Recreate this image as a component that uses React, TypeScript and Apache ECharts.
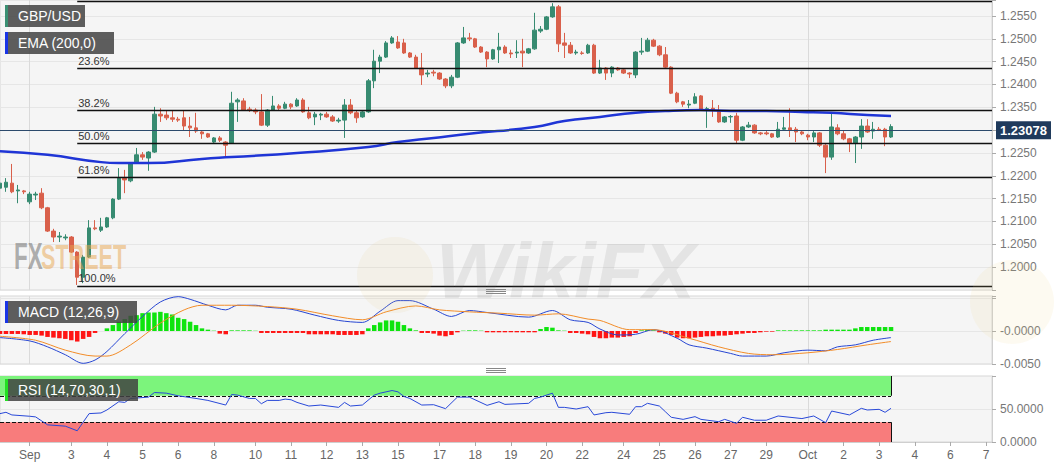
import React, { useEffect, useRef } from "react";
import * as echarts from "echarts";

// ---- DATA ----
const slotCount = 168; // 4-hour slots on the category axis (incl. empty future slots)
const slots = Array.from({ length: slotCount }, (_, i) => String(i));
const dayTickIdx = [5, 12, 18, 24, 30, 36, 43, 49, 55, 61, 67, 74, 80, 86, 92, 98, 105, 111, 117, 123, 129, 136, 142, 148, 154, 160, 166];
const dayTickLabels = ["Sep", "3", "4", "5", "6", "8", "10", "11", "12", "13", "15", "17", "18", "19", "20", "22", "24", "25", "26", "27", "29", "Oct", "2", "3", "4", "6", "7"];
const monthLineIdx = [5, 136];

// [open, close, low, high]
const candles: number[][] = [
  [1.2173, 1.2184, 1.2169, 1.2191], [1.2175, 1.2186, 1.2165, 1.2195], [1.2184, 1.2165, 1.2162, 1.2226], [1.2167, 1.2169, 1.2140, 1.2180],
  [1.2167, 1.2165, 1.2160, 1.2169], [1.2143, 1.2160, 1.2138, 1.2165], [1.2158, 1.2160, 1.2147, 1.2165], [1.2162, 1.2130, 1.2127, 1.2173],
  [1.2130, 1.2079, 1.2077, 1.2132], [1.2079, 1.2066, 1.2055, 1.2084], [1.2066, 1.2068, 1.2055, 1.2077], [1.2064, 1.2066, 1.2059, 1.2072],
  [1.2066, 1.2033, 1.2031, 1.2068], [1.2033, 1.1978, 1.1961, 1.2035], [1.1978, 1.2022, 1.1965, 1.2027], [1.2022, 1.2086, 1.2020, 1.2103],
  [1.2086, 1.2084, 1.2081, 1.2103], [1.2081, 1.2088, 1.2077, 1.2108], [1.2088, 1.2108, 1.2086, 1.2110], [1.2108, 1.2149, 1.2105, 1.2151],
  [1.2149, 1.2195, 1.2147, 1.2217], [1.2195, 1.2191, 1.2162, 1.2213], [1.2189, 1.2228, 1.2186, 1.2230], [1.2230, 1.2246, 1.2228, 1.2261],
  [1.2246, 1.2241, 1.2235, 1.2252], [1.2239, 1.2252, 1.2211, 1.2254], [1.2252, 1.2335, 1.2250, 1.2351], [1.2335, 1.2331, 1.2318, 1.2348],
  [1.2333, 1.2327, 1.2322, 1.2344], [1.2327, 1.2324, 1.2318, 1.2344], [1.2324, 1.2322, 1.2318, 1.2329], [1.2327, 1.2309, 1.2300, 1.2344],
  [1.2309, 1.2305, 1.2285, 1.2329], [1.2305, 1.2298, 1.2294, 1.2338], [1.2296, 1.2292, 1.2281, 1.2298], [1.2292, 1.2285, 1.2283, 1.2294],
  [1.2274, 1.2283, 1.2272, 1.2285], [1.2283, 1.2278, 1.2274, 1.2287], [1.2274, 1.2267, 1.2239, 1.2276], [1.2272, 1.2359, 1.2270, 1.2384],
  [1.2362, 1.2366, 1.2318, 1.2370], [1.2364, 1.2344, 1.2342, 1.2370], [1.2346, 1.2344, 1.2340, 1.2351], [1.2344, 1.2340, 1.2335, 1.2348],
  [1.2340, 1.2311, 1.2309, 1.2379], [1.2311, 1.2344, 1.2307, 1.2346], [1.2344, 1.2353, 1.2342, 1.2375], [1.2353, 1.2348, 1.2344, 1.2357],
  [1.2348, 1.2357, 1.2346, 1.2362], [1.2357, 1.2351, 1.2346, 1.2359], [1.2353, 1.2366, 1.2351, 1.2370], [1.2366, 1.2340, 1.2338, 1.2370],
  [1.2338, 1.2327, 1.2324, 1.2351], [1.2329, 1.2335, 1.2311, 1.2340], [1.2333, 1.2335, 1.2322, 1.2338], [1.2335, 1.2329, 1.2327, 1.2340],
  [1.2329, 1.2320, 1.2318, 1.2333], [1.2320, 1.2322, 1.2316, 1.2327], [1.2322, 1.2355, 1.2283, 1.2368], [1.2355, 1.2338, 1.2335, 1.2368],
  [1.2338, 1.2327, 1.2316, 1.2342], [1.2329, 1.2340, 1.2327, 1.2344], [1.2340, 1.2408, 1.2338, 1.2412], [1.2408, 1.2451, 1.2392, 1.2476],
  [1.2451, 1.2460, 1.2425, 1.2465], [1.2460, 1.2491, 1.2458, 1.2495], [1.2491, 1.2502, 1.2489, 1.2506], [1.2493, 1.2480, 1.2478, 1.2506],
  [1.2491, 1.2469, 1.2467, 1.2500], [1.2469, 1.2460, 1.2458, 1.2471], [1.2460, 1.2436, 1.2434, 1.2465], [1.2436, 1.2421, 1.2399, 1.2469],
  [1.2423, 1.2425, 1.2416, 1.2432], [1.2427, 1.2425, 1.2418, 1.2432], [1.2425, 1.2412, 1.2410, 1.2427], [1.2412, 1.2397, 1.2392, 1.2414],
  [1.2397, 1.2416, 1.2392, 1.2421], [1.2416, 1.2491, 1.2414, 1.2493], [1.2491, 1.2502, 1.2489, 1.2526], [1.2502, 1.2500, 1.2495, 1.2513],
  [1.2500, 1.2482, 1.2480, 1.2502], [1.2482, 1.2471, 1.2469, 1.2484], [1.2471, 1.2456, 1.2438, 1.2473], [1.2456, 1.2476, 1.2454, 1.2478],
  [1.2476, 1.2482, 1.2447, 1.2513], [1.2482, 1.2469, 1.2467, 1.2486], [1.2469, 1.2467, 1.2458, 1.2476], [1.2469, 1.2471, 1.2458, 1.2497],
  [1.2473, 1.2469, 1.2438, 1.2500], [1.2469, 1.2478, 1.2467, 1.2480], [1.2478, 1.2519, 1.2476, 1.2557], [1.2517, 1.2521, 1.2513, 1.2528],
  [1.2521, 1.2548, 1.2519, 1.2550], [1.2548, 1.2570, 1.2546, 1.2578], [1.2570, 1.2489, 1.2471, 1.2574], [1.2491, 1.2486, 1.2458, 1.2513],
  [1.2486, 1.2469, 1.2467, 1.2493], [1.2469, 1.2471, 1.2465, 1.2476], [1.2469, 1.2468, 1.2465, 1.2473], [1.2469, 1.2486, 1.2467, 1.2489],
  [1.2486, 1.2425, 1.2423, 1.2489], [1.2425, 1.2436, 1.2423, 1.2454], [1.2436, 1.2425, 1.2410, 1.2438], [1.2425, 1.2438, 1.2416, 1.2440],
  [1.2436, 1.2432, 1.2430, 1.2438], [1.2432, 1.2425, 1.2423, 1.2434], [1.2425, 1.2423, 1.2414, 1.2427], [1.2421, 1.2471, 1.2414, 1.2473],
  [1.2471, 1.2473, 1.2465, 1.2502], [1.2473, 1.2497, 1.2471, 1.2502], [1.2497, 1.2484, 1.2482, 1.2500], [1.2484, 1.2465, 1.2462, 1.2486],
  [1.2465, 1.2438, 1.2436, 1.2482], [1.2438, 1.2381, 1.2379, 1.2440], [1.2381, 1.2362, 1.2359, 1.2384], [1.2362, 1.2357, 1.2351, 1.2364],
  [1.2355, 1.2357, 1.2348, 1.2366], [1.2359, 1.2373, 1.2357, 1.2381], [1.2375, 1.2346, 1.2344, 1.2377], [1.2346, 1.2347, 1.2305, 1.2351],
  [1.2348, 1.2344, 1.2329, 1.2366], [1.2342, 1.2318, 1.2316, 1.2355], [1.2318, 1.2329, 1.2316, 1.2331], [1.2329, 1.2330, 1.2316, 1.2333],
  [1.2331, 1.2278, 1.2272, 1.2338], [1.2278, 1.2307, 1.2276, 1.2309], [1.2307, 1.2311, 1.2305, 1.2318], [1.2311, 1.2294, 1.2292, 1.2313],
  [1.2294, 1.2292, 1.2289, 1.2296], [1.2294, 1.2292, 1.2289, 1.2298], [1.2292, 1.2285, 1.2283, 1.2294], [1.2285, 1.2302, 1.2283, 1.2318],
  [1.2302, 1.2305, 1.2300, 1.2329], [1.2305, 1.2300, 1.2285, 1.2348], [1.2302, 1.2296, 1.2274, 1.2307], [1.2296, 1.2292, 1.2289, 1.2298],
  [1.2289, 1.2285, 1.2278, 1.2292], [1.2285, 1.2294, 1.2274, 1.2298], [1.2294, 1.2267, 1.2263, 1.2296], [1.2267, 1.2241, 1.2206, 1.2270],
  [1.2241, 1.2307, 1.2235, 1.2338], [1.2305, 1.2292, 1.2289, 1.2313], [1.2292, 1.2281, 1.2278, 1.2300], [1.2281, 1.2272, 1.2252, 1.2283],
  [1.2272, 1.2285, 1.2228, 1.2287], [1.2285, 1.2309, 1.2259, 1.2324], [1.2309, 1.2296, 1.2294, 1.2324], [1.2298, 1.2302, 1.2281, 1.2318],
  [1.2302, 1.2300, 1.2298, 1.2307], [1.2302, 1.2285, 1.2265, 1.2305], [1.2285, 1.23078, 1.2283, 1.2313],
];

// EMA(200) read at points along the line: [slot, value]
const emaPts: number[][] = [
  [0, 1.2254], [8, 1.2246], [17, 1.2230], [20, 1.2228], [25, 1.2228], [34, 1.2237], [39, 1.2241], [50, 1.2250],
  [62, 1.2263], [67, 1.2274], [73, 1.2283], [79, 1.2292], [90, 1.2307], [95, 1.2320], [101, 1.2329], [107, 1.2338],
  [112, 1.2342], [118, 1.2344], [123, 1.2342], [129, 1.2342], [135, 1.2340], [140, 1.2338], [146, 1.2333], [150, 1.2331],
];

const macdPts: number[][] = [
  [0, -0.0010], [5, -0.0015], [8, -0.0024], [11, -0.0036], [14, -0.0049], [16, -0.0044], [18, -0.0031], [21, -0.0004],
  [24, 0.0022], [27, 0.0044], [30, 0.0052], [32, 0.0048], [35, 0.0039], [38, 0.0032], [40, 0.0039], [43, 0.0039],
  [45, 0.0036], [49, 0.0033], [53, 0.0024], [57, 0.0016], [61, 0.0013], [64, 0.0030], [67, 0.0046], [69, 0.0046],
  [73, 0.0033], [76, 0.0022], [79, 0.0031], [82, 0.0028], [89, 0.0021], [93, 0.0031], [96, 0.0017], [99, 0.0013],
  [101, 0.0003], [104, -0.0006], [107, -0.0005], [110, 0.0002], [114, -0.0011], [116, -0.0021], [119, -0.0026], [123, -0.0034],
  [125, -0.0038], [129, -0.0038], [132, -0.0033], [136, -0.0029], [139, -0.0030], [141, -0.0024], [144, -0.0021], [147, -0.0014], [150, -0.0010],
];

const signalPts: number[][] = [
  [0, -0.0008], [6, -0.0014], [11, -0.0029], [16, -0.0038], [18, -0.0038], [22, -0.0021], [27, 0.0012], [31, 0.0032],
  [34, 0.0039], [39, 0.0039], [45, 0.0037], [50, 0.0033], [56, 0.0023], [61, 0.0017], [65, 0.0029], [70, 0.0038],
  [74, 0.0032], [79, 0.0029], [84, 0.0027], [90, 0.0024], [94, 0.0026], [99, 0.0018], [101, 0.0016], [106, 0.0002],
  [110, 0.0002], [116, -0.0011], [121, -0.0024], [126, -0.0034], [130, -0.0036], [136, -0.0033], [141, -0.0028], [146, -0.0021], [150, -0.0016],
];

const macdHist: number[] = [
  -0.00045, -0.00045, -0.00045, -0.00045, -0.0005, -0.0006, -0.0006,
  -0.0007, -0.0009, -0.0010, -0.0011, -0.0012, -0.0014, -0.0016, -0.0012, -0.0009,
  -0.0003, 0.0000, 0.0004, 0.0009, 0.0014, 0.0018, 0.0023, 0.0024, 0.0027, 0.0028,
  0.0028, 0.0029, 0.0027, 0.0025, 0.0020, 0.0018, 0.0014, 0.0009, 0.0004, 0.0002,
  0.00005, -0.0004, -0.0005, 0.0001, 0.0001, 0.0001, 0.0001, 0.00005,
  -0.0003, -0.0003, -0.0003, -0.0003, -0.0003, -0.0003, -0.0003, -0.0003,
  -0.0005, -0.0005, -0.0005, -0.0005, -0.0005, -0.0006, -0.0006, -0.0006, -0.0006, -0.0005,
  0.0004, 0.0009, 0.0013, 0.0016, 0.0016, 0.0014, 0.0009, 0.0004, 0.0001,
  -0.0003, -0.0003, -0.0004, -0.0007, -0.0008, -0.0006, -0.0002, 0.00005, 0.0001, 0.0001, 0.00005,
  -0.0002, -0.0002, -0.0002, -0.0002, -0.0002, -0.0002, -0.0002, -0.0002, -0.0002,
  0.0003, 0.0006, 0.0005, 0.0001, 0.00005,
  -0.0003, -0.0003, -0.0004, -0.0005,
  -0.0009, -0.0011, -0.0011, -0.0010, -0.0010, -0.0009, -0.0008,
  -0.0003, 0.0001, 0.0002, 0.0001,
  -0.0002, -0.0004, -0.0006, -0.0010, -0.0011, -0.0011, -0.0010, -0.0009, -0.0008, -0.0008,
  -0.0007, -0.0007, -0.0006, -0.0005, -0.0004, -0.0003, -0.0003, -0.0002, -0.0001, -0.0001,
  0.0001, 0.0001, 0.0001, 0.0001, 0.0001, 0.0001, 0.0001, 0.0001,
  0.0002, 0.0002, 0.0002, 0.0002, 0.0002,
  0.0004,
  0.0006, 0.0006, 0.0006, 0.0006, 0.0006, 0.0006,
];

const rsiPts: number[][] = [
  [0, 43], [1, 45], [2, 41], [5, 39], [6, 38], [8, 26], [11, 24], [13, 17], [15, 43], [17, 44], [18, 48.5],
  [20, 61], [21, 60], [22, 66], [25, 68], [26, 75], [28, 74], [30, 70], [33, 66], [35, 63], [38, 56], [39, 72],
  [40, 71], [42, 66], [43, 66], [44, 58], [45, 63], [47, 63], [48, 65], [49, 64], [50, 60], [52, 54.5], [54, 56],
  [57, 52.5], [58, 60], [59, 54.5], [61, 56], [63, 71], [64, 74], [66, 78], [67, 76], [68, 69], [69, 66], [71, 56],
  [73, 56.5], [75, 50.5], [77, 68], [79, 68], [82, 55.5], [84, 61], [85, 57], [89, 58.6], [90, 66], [91, 68],
  [93, 74], [94, 52.5], [95, 52.5], [97, 50], [99, 53.5], [100, 41], [102, 44.4], [103, 45], [106, 42], [107, 53.5],
  [108, 53.5], [109, 58.6], [111, 54.5], [112, 46], [113, 37.5], [115, 34.3], [117, 38.4], [118, 34.3], [121, 30.8],
  [122, 34.3], [124, 28.3], [125, 37.5], [127, 33], [129, 33], [131, 39.4], [135, 35.5], [137, 39.4], [139, 29.3],
  [140, 46.9], [143, 41], [145, 51], [146, 48.5], [148, 49.5], [149, 45], [150, 51],
];

const fibPcts = [0, 23.6, 38.2, 50, 61.8, 100];
const fibHigh = 1.2582;
const fibLow = 1.1959;
const fibStartIdx = 13;
const rsiUpper = 70;
const rsiLower = 30;

const GREEN = "#378b71";
const RED = "#d9604b";
const FONT = "Arial, 'Liberation Sans', sans-serif";
const TOP_Z = 300;

function legendBox(x: number, y: number, w: number, barColor: string, text: string) {
  return {
    type: "group",
    x,
    y,
    z: TOP_Z,
    children: [
      { type: "rect", z: TOP_Z, shape: { x: 0, y: 0, width: w, height: 22 }, style: { fill: "rgba(66,66,66,0.85)" } },
      { type: "rect", z: TOP_Z + 1, shape: { x: 0, y: 0, width: 3, height: 22 }, style: { fill: barColor } },
      { type: "text", z: TOP_Z + 2, x: 13, y: 11, style: { text, fill: "#fff", fontSize: 14, fontFamily: FONT, verticalAlign: "middle" } },
    ],
  };
}

function handle(cx: number, y: number) {
  return [0, 2, 4].map((d) => ({
    type: "line",
    z: TOP_Z,
    shape: { x1: cx - 10, y1: y + d + 0.5, x2: cx + 10, y2: y + d + 0.5 },
    style: { stroke: "#888", lineWidth: 1 },
  }));
}

export default function App() {
  const ref = useRef<HTMLDivElement>(null);
  useEffect(() => {
    if (!ref.current) return;
    const chart = echarts.init(ref.current, undefined, { renderer: "svg" });
    const tickSet = new Set(dayTickIdx);
    const lastIdx = candles.length - 1;
    const lastClose = candles[lastIdx][1];
    const endIdx = slotCount - 1;
    const fibPrice = (p: number) => fibHigh - ((fibHigh - fibLow) * p) / 100;

    const xAxisFor = (gridIndex: number, showLabels: boolean) => ({
      type: "category",
      gridIndex,
      data: slots,
      boundaryGap: false,
      axisLine: { show: showLabels, lineStyle: { color: "#cfcfcf" } },
      axisTick: { show: showLabels, interval: (i: number) => tickSet.has(i), length: 4, lineStyle: { color: "#aaa" } },
      axisLabel: {
        show: showLabels,
        interval: (i: number) => tickSet.has(i),
        formatter: (v: string) => {
          const k = dayTickIdx.indexOf(Number(v));
          return k >= 0 ? dayTickLabels[k] : "";
        },
        color: "#666",
        fontSize: 12,
        margin: 7,
        fontFamily: FONT,
      },
      splitLine: { show: true, interval: (i: number) => monthLineIdx.includes(i), lineStyle: { color: "#dadada" } },
    });

    const yCommon = {
      position: "right",
      axisLine: { show: true, lineStyle: { color: "#cfcfcf" } },
      axisTick: { show: true, length: 4, lineStyle: { color: "#aaa" } },
      splitLine: { show: true, lineStyle: { color: "#e6e6e6" } },
    };

    const option: any = {
      animation: false,
      backgroundColor: "#fff",
      textStyle: { fontFamily: FONT },
      grid: [
        { left: 0, top: 0, width: 992, height: 290, show: true, backgroundColor: "#f5f5f5", borderColor: "#d6d6d6" },
        { left: 0, top: 296, width: 992, height: 68, show: true, backgroundColor: "#f5f5f5", borderColor: "#d6d6d6" },
        { left: 0, top: 376, width: 992, height: 66, show: true, backgroundColor: "#f5f5f5", borderColor: "#d6d6d6" },
      ],
      xAxis: [xAxisFor(0, false), xAxisFor(1, false), xAxisFor(2, true)],
      yAxis: [
        {
          ...yCommon,
          type: "value",
          gridIndex: 0,
          min: 1.195,
          max: 1.2585,
          interval: 0.005,
          axisLabel: {
            color: "#777",
            fontSize: 12,
            margin: 8,
            fontFamily: FONT,
            formatter: (v: number) => {
              const k = Math.round(v / 0.005);
              if (Math.abs(k * 0.005 - v) > 1e-7 || v < 1.1999 || v > 1.2551) return "";
              // the last-price tag covers the level next to it
              if (Math.abs(v - lastClose) < 0.002) return "";
              return v.toFixed(4);
            },
          },
        },
        {
          ...yCommon,
          type: "value",
          gridIndex: 1,
          min: -0.005,
          max: 0.0053,
          interval: 0.005,
          axisLabel: {
            color: "#777",
            fontSize: 12,
            margin: 8,
            fontFamily: FONT,
            formatter: (v: number) => (Math.abs(v) < 1e-9 ? "-0.0000" : Math.abs(v + 0.005) < 1e-9 ? "-0.0050" : ""),
          },
        },
        {
          ...yCommon,
          type: "value",
          gridIndex: 2,
          min: 0,
          max: 100,
          interval: 50,
          axisLabel: {
            color: "#777",
            fontSize: 12,
            margin: 8,
            fontFamily: FONT,
            formatter: (v: number) => (v >= 100 ? "" : v.toFixed(4)),
          },
        },
      ],
      series: [
        {
          type: "candlestick",
          xAxisIndex: 0,
          yAxisIndex: 0,
          data: candles,
          barWidth: 4,
          itemStyle: { color: GREEN, color0: RED, borderColor: GREEN, borderColor0: RED, borderWidth: 1 },
          markLine: {
            silent: true,
            symbol: ["none", "none"],
            animation: false,
            data: [
              ...fibPcts.map((p) => [
                {
                  coord: [fibStartIdx, fibPrice(p)],
                  lineStyle: { color: "#111", width: 1.3, type: "solid" },
                  label: {
                    show: p !== 0,
                    position: "insideStartTop",
                    formatter: p.toFixed(1) + "%",
                    color: "#333",
                    fontSize: 11,
                    distance: [1, 2],
                    fontFamily: FONT,
                  },
                },
                { coord: [endIdx, fibPrice(p)] },
              ]),
              {
                yAxis: lastClose,
                lineStyle: { color: "#2c4a6c", width: 1, type: "solid" },
                label: {
                  show: true,
                  position: "end",
                  formatter: lastClose.toFixed(5),
                  backgroundColor: "#1f3a5c",
                  color: "#fff",
                  fontWeight: "bold",
                  fontSize: 13,
                  padding: [3, 4, 2, 4],
                  distance: 4,
                  fontFamily: FONT,
                },
              },
            ],
          },
        },
        {
          type: "line",
          name: "EMA",
          xAxisIndex: 0,
          yAxisIndex: 0,
          data: emaPts,
          smooth: true,
          showSymbol: false,
          z: 4,
          lineStyle: { color: "#1f35d6", width: 2.5 },
        },
        {
          type: "bar",
          xAxisIndex: 1,
          yAxisIndex: 1,
          barWidth: 4.5,
          data: macdHist.map((v) => ({ value: v, itemStyle: { color: v >= 0 ? "#0ee40e" : "#ff1414" } })),
        },
        {
          type: "line",
          xAxisIndex: 1,
          yAxisIndex: 1,
          data: macdPts,
          smooth: 0.3,
          showSymbol: false,
          z: 4,
          lineStyle: { color: "#2746d2", width: 1 },
        },
        {
          type: "line",
          xAxisIndex: 1,
          yAxisIndex: 1,
          data: signalPts,
          smooth: 0.3,
          showSymbol: false,
          z: 4,
          lineStyle: { color: "#f28c28", width: 1 },
        },
        {
          type: "line",
          xAxisIndex: 2,
          yAxisIndex: 2,
          data: rsiPts,
          showSymbol: false,
          z: 5,
          lineStyle: { color: "#2848d8", width: 1 },
          markArea: {
            silent: true,
            data: [
              [{ coord: [0, rsiUpper], itemStyle: { color: "#7cf47c" } }, { coord: [lastIdx, 100] }],
              [{ coord: [0, 0], itemStyle: { color: "#f87c7c" } }, { coord: [lastIdx, rsiLower] }],
            ],
          },
          markLine: {
            silent: true,
            symbol: ["none", "none"],
            label: { show: false },
            data: [
              [{ coord: [0, rsiUpper], lineStyle: { color: "#111", width: 1, type: "dashed" } }, { coord: [lastIdx, rsiUpper] }],
              [{ coord: [0, rsiLower], lineStyle: { color: "#111", width: 1, type: "dashed" } }, { coord: [lastIdx, rsiLower] }],
              [{ coord: [lastIdx, rsiUpper], lineStyle: { color: "#111", width: 1, type: "solid" } }, { coord: [lastIdx, 100] }],
              [{ coord: [lastIdx, 0], lineStyle: { color: "#111", width: 1, type: "solid" } }, { coord: [lastIdx, rsiLower] }],
            ],
          },
        },
      ],
      graphic: [
        // watermarks
        { type: "text", x: 436, y: 232, z: 150, silent: true, style: { text: "WikiFX", fill: "rgba(110,110,110,0.12)", fontSize: 78, fontWeight: "bold", fontStyle: "italic", fontFamily: FONT } },
        { type: "circle", shape: { cx: 395, cy: 275, r: 38 }, z: 150, silent: true, style: { fill: "rgba(230,200,120,0.10)" } },
        { type: "circle", shape: { cx: 1012, cy: 302, r: 42 }, z: 150, silent: true, style: { fill: "rgba(235,210,140,0.12)" } },
        { type: "text", x: 14, y: 238, z: 150, silent: true, scaleX: 0.62, style: { text: "FX", fill: "rgba(110,110,110,0.55)", fontSize: 36, fontWeight: "bold", fontFamily: FONT } },
        { type: "text", x: 41, y: 238, z: 150, silent: true, scaleX: 0.6, style: { text: "STREET", fill: "rgba(232,165,80,0.5)", fontSize: 36, fontWeight: "bold", fontFamily: FONT } },
        legendBox(5, 5, 80, "#3a8f72", "GBP/USD"),
        legendBox(5, 32, 109, "#1a35e6", "EMA (200,0)"),
        legendBox(5, 301, 132, "#1a35e6", "MACD (12,26,9)"),
        legendBox(5, 379, 133, "#22e022", "RSI (14,70,30,1)"),
        ...handle(496, 289),
        ...handle(496, 368),
      ],
    };

    chart.setOption(option);
    return () => chart.dispose();
  }, []);

  return <div ref={ref} style={{ position: "fixed", left: 0, top: 0, width: 1063, height: 469 }} />;
}
